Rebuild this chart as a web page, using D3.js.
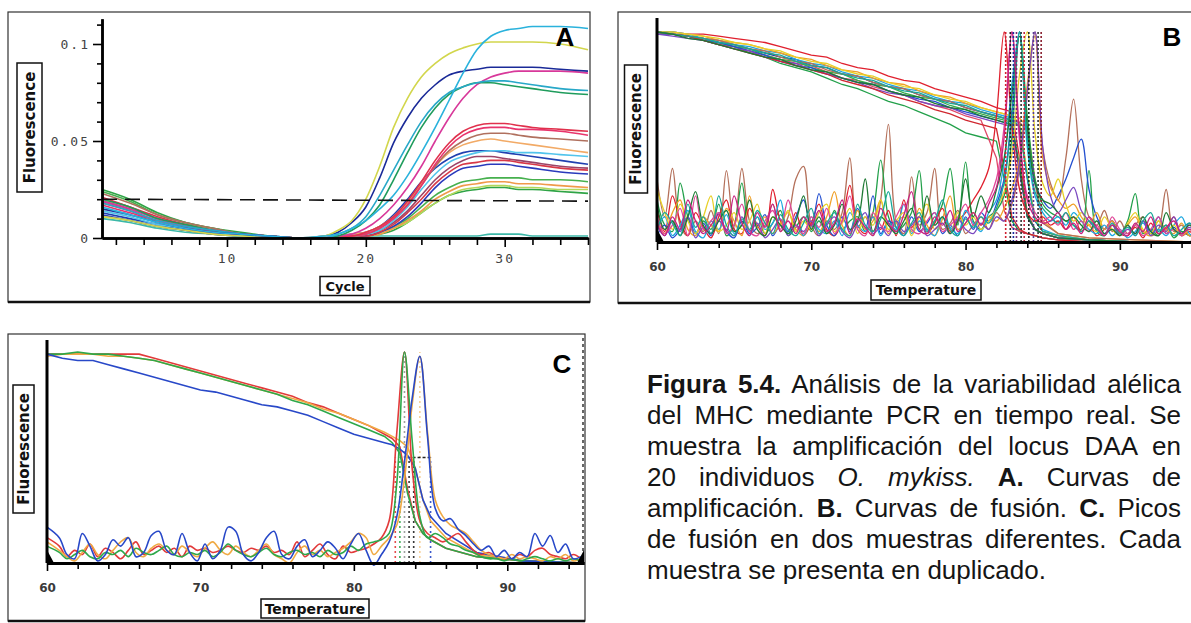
<!DOCTYPE html>
<html lang="es">
<head>
<meta charset="UTF-8">
<title>Figura 5.4 - PCR en tiempo real</title>
<script src="https://d3js.org/d3.v7.min.js"></script>
<style>
  body { margin: 0; background: #fff; }
  #fig { position: relative; width: 1191px; height: 623px; overflow: hidden; background: #fff; }
  #fig svg { position: absolute; left: 0; top: 0; }
  #caption {
    position: absolute; left: 647px; top: 369px; width: 534px;
    font-family: 'Liberation Sans', Arial, sans-serif;
    font-size: 26px; line-height: 31px; color: #151515;
  }
  #caption div { text-align: justify; text-align-last: justify; }
  #caption div.last { text-align-last: left; }
</style>
</head>
<body>
<div id="fig">
  <div id="caption">
    <div><b>Figura 5.4.</b> Análisis de la variabilidad alélica</div>
    <div>del MHC mediante PCR en tiempo real. Se</div>
    <div>muestra la amplificación del locus DAA en</div>
    <div>20 individuos <i>O. mykiss.</i> <b>A.</b> Curvas de</div>
    <div>amplificación. <b>B.</b> Curvas de fusión. <b>C.</b> Picos</div>
    <div>de fusión en dos muestras diferentes. Cada</div>
    <div class="last">muestra se presenta en duplicado.</div>
  </div>
</div>
<script>
// ---------- Panel A: amplification curves (fluorescence x 1000) ----------
const cycles = [1,3,5,7,9,11,13,15,17,18,19,20,21,22,23,24,25,26,27,28,29,30,31,32,34,36];
const ampCyanTop  = [16,12,8,5,3,2,1,0,1,2,5,9,15,22,32,44,57,71,85,97,104,107,108,109,109,108];
const ampYellow   = [11,9,6,4,2,1,0,0,1,4,9,20,37,57,72,83,90,95,98,100,101,101,101,101,100,97];
const ampDarkBlue = [15,12,8,5,3,2,1,0,1,3,8,16,31,49,62,72,79,84,86,87,88,88,88,88,87,86];
const ampTeal     = [18,14,9,6,4,2,1,0,0,2,5,11,22,35,48,60,69,75,78,80,81,81,80,79,77,76];
const ampGreen    = [20,16,10,7,4,2,1,0,0,1,4,9,17,30,44,57,67,74,78,80,80,79,78,77,75,74];
const ampMagenta  = [19,15,10,6,4,2,1,0,0,1,2,5,10,17,26,37,50,62,72,79,83,85,86,86,86,85];
const ampRed      = [21,16,11,7,4,2,1,0,0,1,1,3,6,11,19,29,40,49,55,58,59,59,58,57,56,55];
const ampPinkRed  = [17,13,9,6,3,2,1,0,0,0,1,2,5,10,17,27,38,47,53,56,57,57,56,56,55,53];
const ampBrown    = [23,18,12,8,5,2,1,0,0,1,1,2,5,10,17,27,37,45,50,53,54,54,53,52,51,50];
const ampOrange   = [20,16,10,7,4,2,1,0,0,1,2,3,6,11,18,28,37,44,48,50,51,50,49,48,46,44];
const ampLightBlue= [14,11,7,5,3,1,1,0,0,1,1,2,4,9,16,25,33,39,42,44,45,45,44,44,43,42];
const ampBlue2    = [13,10,7,4,3,1,1,0,0,1,2,3,6,12,20,29,36,41,44,45,45,44,43,42,40,38];
const ampPurple   = [19,15,10,6,4,2,1,0,0,0,1,2,4,8,14,22,30,36,40,42,42,41,40,39,37,36];
const ampRed2     = [18,14,9,6,4,2,1,0,0,0,1,1,3,7,13,20,28,34,38,39,40,40,39,38,36,35];
const ampBlue3    = [12,9,6,4,2,1,0,0,0,0,1,1,3,6,11,18,26,32,36,37,38,38,37,36,34,33];
const ampGreen2   = [24,19,12,8,5,2,1,0,0,0,1,1,3,6,10,16,22,26,29,30,31,31,31,30,30,29];
const ampOrange2  = [20,16,10,7,4,2,1,0,0,0,0,1,2,5,9,14,20,24,27,28,29,29,28,28,27,26];
const ampLightGrn = [11,9,6,4,2,1,0,0,0,0,0,1,2,5,8,13,18,22,25,26,27,27,26,26,25,25];
const ampGreen3   = [25,20,13,8,5,3,1,0,0,0,0,1,2,4,8,13,18,22,24,25,26,26,25,25,24,23];
const ampControl  = [10,8,5,3,2,1,1,0,0,0,0,1,1,1,1,1,1,1,1,1,2,2,2,1,1,1];
const thresholdCycles = [1, 36];
const thresholdValues = [20, 19];
const aYTicks = [0, 50, 100];
const aYTickLabels = ["0", "0.05", "0.1"];
const aYMinor = [10, 20, 30, 40, 60, 70, 80, 90, 110];
const aXTicks = [10, 20, 30];
const aXTickLabels = ["10", "20", "30"];
const aXMinor = [2,4,6,8,12,14,16,18,22,24,26,28,32,34,36];

// ---------- Panel B: melt curves + derivative peaks (20 individuals) ----------
const meltTemps = [60,61,62,63,64,65,66,67,68,69,70,71,72,73,74,75,76,77,78,79,80,81,82,82.5,83,83.5,84,84.5,85,86,88,91,95];
const meltB1  = [100,100,99,99,98,97,96,95,93,91,89,88,85,83,82,79,77,76,73,71,69,67,64,63,62,40,14,6,4,2,1,0,0];
const meltB2  = [100,99,98,96,94,93,90,88,85,83,81,78,75,73,70,67,65,62,59,56,52,50,48,30,10,5,4,3,2,1,1,0,0];
const meltB3  = [100,99,98,97,95,94,92,90,88,87,84,83,80,79,76,74,73,70,68,67,64,62,60,59,58,55,30,10,5,3,1,0,0];
const meltB4  = [100,100,99,97,96,94,93,91,90,87,85,84,81,79,78,75,73,72,69,67,66,63,61,60,59,56,32,11,6,3,1,0,0];
const meltB5  = [100,99,99,98,96,95,94,92,90,88,87,84,82,81,78,76,75,72,70,69,66,64,62,61,60,59,55,30,10,4,2,1,0];
const meltB6  = [99,99,98,96,94,93,91,89,87,85,84,81,78,77,74,72,70,67,65,63,60,58,40,15,7,5,4,3,2,1,0,0,0];
const meltB7  = [100,99,98,97,95,93,92,89,87,86,83,81,80,77,75,74,71,69,68,65,63,61,59,58,57,36,13,6,4,2,1,0,0];
const meltB8  = [99,99,98,96,95,93,91,89,86,84,83,80,78,76,75,72,70,68,67,64,62,60,58,57,56,34,12,6,4,2,1,0,0];
const meltB9  = [100,100,99,98,97,95,94,92,91,88,86,85,82,80,79,76,74,73,70,68,67,64,62,61,60,57,33,11,5,3,1,0,0];
const meltB10 = [100,99,98,97,96,94,92,91,88,86,85,82,80,79,76,74,73,70,68,67,64,62,60,59,58,57,53,28,9,4,2,1,0];
const meltB11 = [99,98,97,96,94,92,91,88,86,85,82,80,78,76,73,71,70,67,65,64,61,59,57,56,55,33,12,6,4,2,1,0,0];
const meltB12 = [100,99,98,96,94,92,90,88,86,84,82,80,77,75,73,70,68,66,63,61,58,56,54,35,12,6,4,3,2,1,0,0,0];
const meltB13 = [100,99,98,97,95,94,92,90,89,86,84,83,80,78,77,74,72,71,68,66,65,62,60,59,58,55,31,10,5,3,1,0,0];
const meltB14 = [100,99,97,96,94,92,90,88,87,84,82,81,78,76,75,72,70,69,66,64,63,60,58,57,56,35,12,6,4,2,1,0,0];

// derivative curves, 60 to 95 every 0.5 degrees
const derivTempsB = [60,60.5,61,61.5,62,62.5,63,63.5,64,64.5,65,65.5,66,66.5,67,67.5,68,68.5,69,69.5,70,
  70.5,71,71.5,72,72.5,73,73.5,74,74.5,75,75.5,76,76.5,77,77.5,78,78.5,79,79.5,80,
  80.5,81,81.5,82,82.5,83,83.5,84,84.5,85,85.5,86,86.5,87,87.5,88,88.5,89,89.5,90,
  90.5,91,91.5,92,92.5,93,93.5,94,94.5,95];
const derivBrown  = [30,12,35,8,3,10,5,15,4,34,6,35,10,4,8,18,5,12,30,36,8, 3,10,6,14,40,7,12,3,20,56,10,4,31,8,14,35,6,9,15,4, 8,12,6,14,10,18,35,70,100,45, 28,20,40,68,30,12,8,15,5,10, 4,8,12,3,6,25,5,8,3,6];
const derivGreen  = [20,8,5,28,12,4,10,6,18,3,8,28,5,12,4,9,15,3,7,12,5, 10,4,15,6,10,12,5,14,39,12,5,8,14,34,6,10,18,35,8,38, 10,6,12,15,22,50,100,60,30,18, 14,12,10,8,6,34,5,3,8,4, 10,23,4,6,3,8,2,5,3,4];
const derivRed    = [15,5,22,10,3,14,7,2,12,20,6,4,16,8,3,25,10,5,14,3,9, 18,6,3,10,27,8,4,12,6,15,3,20,7,12,4,9,16,5,10,14, 20,26,35,60,100,55,25,14,10,12, 8,10,6,12,5,8,3,6,10,4, 3,7,2,9,4,6,12,3,5,2];
const derivBlue   = [3,8,2,6,12,4,9,3,14,5,2,10,4,7,13,3,8,5,12,20,6, 23,8,3,12,5,16,6,22,4,10,7,3,12,5,9,14,4,8,3,12, 6,14,10,18,30,62,100,50,28,20, 16,22,30,40,49,25,12,6,10,4, 8,3,10,5,12,4,7,3,9,5];
const derivOrange = [10,4,14,20,6,3,12,8,5,16,10,3,22,7,12,4,9,14,6,3,10, 5,12,24,8,3,15,6,10,20,4,9,12,5,16,8,3,11,22,6,9, 14,8,12,10,16,25,40,75,98,40, 26,20,16,18,12,8,14,6,10,4, 8,12,5,3,10,6,4,9,3,5];
const derivCyan   = [6,12,3,8,15,5,2,10,6,13,4,8,3,12,6,9,20,4,8,3,12, 6,4,10,3,14,8,5,12,3,9,6,18,4,10,6,3,12,7,4,15, 9,5,14,20,38,75,100,45,22,14, 10,12,8,14,10,6,4,8,3,6, 2,5,9,4,6,3,8,12,4,2];
const derivYellow = [25,14,6,18,10,4,12,22,5,8,14,6,10,18,4,12,8,15,5,10,6, 14,18,5,9,16,4,12,8,20,6,10,14,3,12,18,6,9,4,14,8, 12,6,10,16,24,42,80,100,52,28, 22,30,18,10,14,8,5,12,6,3, 9,14,6,4,10,5,8,3,6,4];
const derivPurple = [8,3,10,5,12,2,7,4,10,6,3,12,5,9,2,6,11,3,8,5,10, 3,8,12,5,2,9,14,4,7,3,10,5,8,12,3,6,9,4,11,6, 4,9,6,12,10,20,38,72,100,45, 22,14,20,26,15,10,6,4,8,3, 6,4,10,3,8,5,12,4,7,3];
const derivPink   = [12,4,8,16,3,22,6,10,14,4,8,18,5,3,10,15,6,20,8,4,12, 7,16,4,10,22,6,3,14,8,5,12,18,6,4,10,14,5,8,12,18, 8,14,20,30,55,100,48,22,14,10, 12,8,14,6,10,5,8,3,12,6, 4,8,3,6,12,4,6,3,8,5];
const derivDkGreen= [18,6,10,3,12,24,8,4,10,15,5,8,20,6,3,12,8,4,10,22,6, 12,4,8,18,6,10,30,5,12,8,4,10,16,6,22,8,12,4,10,30, 12,22,14,25,40,70,98,55,28,20, 18,14,10,12,8,5,10,4,6,3, 8,4,12,5,3,14,6,4,8,3];
const derivTeal   = [5,14,9,3,18,7,12,4,22,8,3,11,6,15,9,4,13,6,3,9,16, 4,9,14,6,3,18,8,5,11,24,7,3,9,14,5,10,20,6,3,11, 7,12,9,16,28,60,100,48,24,16, 12,9,14,8,5,10,6,3,9,4, 7,3,10,14,5,8,3,6,9,3];
const derivMagenta= [9,3,12,6,20,10,4,8,13,5,22,9,3,14,7,18,5,10,4,12,8, 15,5,9,20,4,11,7,3,16,9,5,13,24,6,4,12,8,15,5,9, 14,8,18,26,50,100,52,20,12,9, 10,14,6,9,4,12,7,3,8,5, 3,9,5,12,4,7,10,4,6,3];
const bMarkTemps = [82.6, 82.9, 83.1, 83.3, 83.6, 83.8, 84.1, 84.4, 84.7, 84.9];
const bMarkTop = 100;

// ---------- Panel C: two samples in duplicate ----------
const meltCRed    = [99,99,99,99,99,99,99,97,95,93,91,89,87,85,83,81,79,76,74,71,68,65,61,59,55,35,20,14,11,7,3,1,0];
const meltCOrange = [98,99,99,99,98,98,97,96,94,92,90,88,86,84,82,80,78,76,73,71,68,65,62,60,58,55,45,30,20,12,4,1,0];
const meltCGreen  = [99,99,100,99,99,98,97,96,94,92,90,88,86,84,82,80,77,75,72,69,66,63,60,57,52,33,20,14,11,7,3,1,0];
const meltCBlue   = [99,97,96,96,94,92,90,88,86,84,82,81,79,77,75,74,72,70,67,64,61,59,57,56,54,51,45,30,22,14,5,1,0];
const derivTempsC = [60,60.8,61.3,61.8,62.3,62.8,63.3,63.8,64.3,64.8,65.3,65.8,66.3,66.8,67.3,67.8,68.3,68.8,69.3,69.8,
  70.3,70.8,71.3,71.8,72.3,72.8,73.3,73.8,74.3,74.8,75.3,75.8,76.3,76.8,77.3,77.8,78.3,78.8,79.3,79.8,
  80.3,80.8,81.3,81.8,82.3,82.8,83.3,83.8,84.3,84.8,85.3,85.8,86.3,86.8,87.3,87.8,88.3,88.8,89.3,89.8,
  90.3,90.8,91.3,91.8,92.3,92.8,93.3,93.8,94.3,94.8];
const derivCRed    = [12,8,3,6,4,9,3,7,5,2, 6,10,4,6,8,5,7,3,8,6, 7,5,6,8,6,5,7,6,8,5, 6,4,10,3,6,9,4,2,8,5, 6,7,9,12,20,62,100,45,20,14, 12,10,12,14,10,6,4,5,3,2, 2,4,3,6,7,4,3,2,4,2];
const derivCOrange = [10,6,3,1,5,9,4,2,6,10, 12,5,3,7,9,6,4,8,5,3, 7,10,6,4,8,5,3,6,9,4, 2,0,5,8,4,6,3,5,7,10, 14,12,4,8,12,18,40,75,98,62, 30,22,18,16,14,10,6,4,3,2, 4,2,3,2,1,3,2,4,1,2];
const derivCGreen  = [8,5,2,4,6,3,2,5,4,6, 3,7,5,4,6,8,4,3,5,4, 6,3,5,9,6,4,3,5,7,4, 3,5,6,4,5,3,6,4,5,8, 6,9,10,11,14,38,100,58,22,12, 14,12,9,8,6,5,3,2,2,1, 2,1,2,3,2,1,2,1,2,1];
const derivCBlue   = [17,12,4,2,14,8,1,4,11,8, 12,3,5,13,15,6,4,14,5,1, 9,2,6,17,15,4,1,5,12,15, 4,2,8,11,3,6,10,7,2,9, 14,6,-1,4,10,22,48,78,98,60, 26,20,21,16,13,9,6,8,3,6, 2,5,3,14,8,13,5,9,2,3];
const cMarkTemps = [82.7, 83.0, 83.3, 83.6, 83.9, 84.3, 85.0];
const cMarkTops  = [50, 50, 100, 50, 50, 100, 50];
const cHalfLevel = 50, cHalfFrom = 83.5, cHalfTo = 85.1;

const tempTicks = [60, 70, 80, 90];
const tempTickLabels = ["60", "70", "80", "90"];
const tempMinor = [62,64,66,68,72,74,76,78,82,84,86,88,92,94];

// ---------- colours ----------
const ampSeries = [ampControl, ampGreen3, ampLightGrn, ampOrange2, ampGreen2, ampBlue3, ampRed2, ampPurple,
  ampBlue2, ampLightBlue, ampOrange, ampBrown, ampPinkRed, ampRed, ampMagenta, ampGreen, ampTeal, ampDarkBlue, ampYellow, ampCyanTop];
const ampColors = ["#3cb8a8", "#2fa446", "#b2d85c", "#f09a4a", "#46b04e", "#2a3abc", "#d83848", "#9c4468",
  "#2040b0", "#52c4ec", "#f2aa66", "#b0705e", "#e8346c", "#e0304c", "#d8389a", "#1f9c5c", "#28a8c8", "#1a2a98", "#d2d64c", "#2ab2dc"];
const meltBSeries = [meltB1, meltB2, meltB3, meltB4, meltB5, meltB6, meltB7, meltB8, meltB9, meltB10, meltB11, meltB12, meltB13, meltB14];
const meltBColors = ["#e0202e", "#22a04a", "#1a2c9c", "#1ea8e0", "#f0a028", "#e04868", "#38b048", "#2450d0",
  "#e8d028", "#b4705a", "#7a48c0", "#d02830", "#18a898", "#1e7a34"];
const derivBSeries = [derivBrown, derivGreen, derivRed, derivBlue, derivOrange, derivCyan, derivYellow, derivPurple,
  derivPink, derivDkGreen, derivTeal, derivMagenta];
const derivBColors = ["#b4705a", "#22a04a", "#e0202e", "#2450d0", "#f0a028", "#1ea8e0", "#e8d028", "#7a48c0",
  "#e04898", "#1e7a34", "#18a898", "#c82080"];
const bMarkColors = ["#d02030", "#222", "#1a2c9c", "#7a2a70", "#333", "#c02840", "#222", "#5a3a90", "#333", "#8a2030"];
const meltCSeries = [meltCRed, meltCOrange, meltCGreen, meltCBlue];
const derivCSeries = [derivCRed, derivCOrange, derivCGreen, derivCBlue];
const cColors = ["#e23a3a", "#f0aa44", "#2ea84a", "#2848c8"];
const cMarkColors = ["#e23a3a", "#2ea84a", "#555", "#222", "#222", "#f0aa44", "#2848c8"];

// ---------- drawing ----------
const svg = d3.select("#fig").append("svg").attr("width", 1191).attr("height", 623);
const defs = svg.append("defs");

function frame(x, y, w, h) {
  svg.append("rect").attr("x", x).attr("y", y).attr("width", w).attr("height", h)
    .attr("fill", "none").attr("stroke", "#333").attr("stroke-width", 1.2);
  svg.append("line").attr("x1", x).attr("x2", x + w).attr("y1", y + h).attr("y2", y + h)
    .attr("stroke", "#111").attr("stroke-width", 2.5);
}

function boxLabel(text, cx, cy, w, h, vertical, size) {
  const g = svg.append("g").attr("transform", `translate(${cx},${cy})` + (vertical ? " rotate(-90)" : ""));
  const bw = vertical ? h : w, bh = vertical ? w : h;
  g.append("rect").attr("x", -bw / 2).attr("y", -bh / 2).attr("width", bw).attr("height", bh)
    .attr("fill", "#fff").attr("stroke", "#111").attr("stroke-width", 1.5);
  g.append("text").attr("text-anchor", "middle").attr("dy", "0.36em")
    .style("font-family", "'DejaVu Sans', Verdana, sans-serif").style("font-weight", "bold")
    .style("font-size", size + "px").attr("fill", "#111").text(text);
}

function panelLetter(t, x, y) {
  svg.append("text").attr("x", x).attr("y", y).attr("text-anchor", "middle")
    .style("font-family", "'Liberation Sans', Arial, sans-serif").style("font-weight", "bold")
    .style("font-size", "26px").attr("fill", "#000").text(t);
}

function styleAxis(g, domainW) {
  g.select(".domain").attr("stroke", "#000").attr("stroke-width", domainW);
  g.selectAll(".tick line").attr("stroke", "#000").attr("stroke-width", 1.6);
}

// ----- Panel A -----
frame(8, 12, 582, 290);
const xA = d3.scaleLinear().domain([1, 36]).range([102, 588]);
const yA = d3.scaleLinear().domain([0, 113]).range([238, 238 - 113 * 1.94]);
const gA = svg.append("g");

const lineA = d3.line().x(d => xA(d[0])).y(d => yA(d[1])).curve(d3.curveMonotoneX);
gA.selectAll("path.amp").data(ampSeries).join("path").attr("class", "amp")
  .attr("d", s => lineA(cycles.map((c, i) => [c, s[i]])))
  .attr("fill", "none").attr("stroke", (s, i) => ampColors[i]).attr("stroke-width", 1.6);

gA.append("path")
  .attr("d", d3.line().x(d => xA(d[0])).y(d => yA(d[1]))(thresholdCycles.map((c, i) => [c, thresholdValues[i]])))
  .attr("fill", "none").attr("stroke", "#111").attr("stroke-width", 1.6).attr("stroke-dasharray", "15,8");

const aMonoFont = g => g.selectAll("text").style("font-family", "'DejaVu Sans Mono', monospace")
  .style("font-size", "13px").style("letter-spacing", "2px").attr("fill", "#444");

const yAxMinor = gA.append("g").attr("transform", "translate(102,0)")
  .call(d3.axisLeft(yA).tickValues(aYMinor).tickSize(5).tickSizeOuter(0).tickFormat(""));
styleAxis(yAxMinor, 2.5);
const yAxMajor = gA.append("g").attr("transform", "translate(102,0)")
  .call(d3.axisLeft(yA).tickValues(aYTicks).tickSize(9).tickSizeOuter(0).tickFormat((d, i) => aYTickLabels[i]));
styleAxis(yAxMajor, 2.5);
yAxMajor.call(aMonoFont);
yAxMajor.selectAll("text").attr("x", -12);

const xAxMinor = gA.append("g").attr("transform", "translate(0,238)")
  .call(d3.axisBottom(xA).tickValues(aXMinor).tickSize(7).tickSizeOuter(0).tickFormat(""));
styleAxis(xAxMinor, 2.5);
const xAxMajor = gA.append("g").attr("transform", "translate(0,238)")
  .call(d3.axisBottom(xA).tickValues(aXTicks).tickSize(9).tickSizeOuter(0).tickFormat((d, i) => aXTickLabels[i]));
styleAxis(xAxMajor, 2.5);
xAxMajor.call(aMonoFont);
xAxMajor.selectAll("text").attr("y", 16);

boxLabel("Fluorescence", 29.5, 127.5, 25, 129, true, 15);
boxLabel("Cycle", 345, 286, 50, 19, false, 13);
panelLetter("A", 565, 46);

// ----- Panel B -----
frame(618, 12, 620, 291);
const xB = d3.scaleLinear().domain([60, 95]).range([657, 1197]);
const yB = d3.scaleLinear().domain([0, 100]).range([242, 32]);
defs.append("clipPath").attr("id", "clipB").append("rect")
  .attr("x", 657).attr("y", 14).attr("width", 540).attr("height", 230);
const gB = svg.append("g").attr("clip-path", "url(#clipB)");
const lineB = d3.line().x(d => xB(d[0])).y(d => yB(d[1]));
const peakLineB = d3.line().x(d => xB(d[0])).y(d => yB(d[1])).curve(d3.curveCatmullRom.alpha(0.5));

gB.selectAll("path.melt").data(meltBSeries).join("path").attr("class", "melt")
  .attr("d", s => lineB(meltTemps.map((t, i) => [t, s[i]])))
  .attr("fill", "none").attr("stroke", (s, i) => meltBColors[i]).attr("stroke-width", 1.3);
gB.selectAll("path.deriv").data(derivBSeries).join("path").attr("class", "deriv")
  .attr("d", s => peakLineB(derivTempsB.map((t, i) => [t, s[i]])))
  .attr("fill", "none").attr("stroke", (s, i) => derivBColors[i]).attr("stroke-width", 1.3);
gB.selectAll("line.mark").data(bMarkTemps).join("line").attr("class", "mark")
  .attr("x1", t => xB(t)).attr("x2", t => xB(t)).attr("y1", yB(0)).attr("y2", yB(bMarkTop))
  .attr("stroke", (t, i) => bMarkColors[i]).attr("stroke-width", 1.6).attr("stroke-dasharray", "2,2");

const tempFont = g => g.selectAll("text").style("font-family", "'DejaVu Sans', Verdana, sans-serif")
  .style("font-weight", "bold").style("font-size", "12px").attr("fill", "#3a3a3a");

function tempAxes(xS, yS, y0, yTop) {
  const gm = svg.append("g").attr("transform", `translate(0,${y0})`)
    .call(d3.axisBottom(xS).tickValues(tempMinor).tickSize(6).tickSizeOuter(0).tickFormat(""));
  styleAxis(gm, 3);
  const gM = svg.append("g").attr("transform", `translate(0,${y0})`)
    .call(d3.axisBottom(xS).tickValues(tempTicks).tickSize(8).tickSizeOuter(0).tickFormat((d, i) => tempTickLabels[i]));
  styleAxis(gM, 3);
  gM.call(tempFont);
  gM.selectAll("text").attr("y", 20);
  svg.append("line").attr("x1", xS(60)).attr("x2", xS(60)).attr("y1", y0).attr("y2", yTop)
    .attr("stroke", "#000").attr("stroke-width", 3);
  // dark wedges at the baseline corners
  const x0 = xS(60), x1 = xS(95);
  svg.append("path").attr("d", `M${x0},${y0}L${x0},${y0 - 13}L${x0 + 7},${y0}Z`).attr("fill", "#000");
  svg.append("path").attr("d", `M${x1},${y0}L${x1},${y0 - 13}L${x1 - 7},${y0}Z`).attr("fill", "#000");
}
tempAxes(xB, yB, 242, 18);
boxLabel("Fluorescence", 636, 129, 23, 128, true, 15);
boxLabel("Temperature", 926, 290, 110, 20, false, 14);
panelLetter("B", 1172, 46);

// ----- Panel C -----
frame(8, 334, 577, 287);
const xC = d3.scaleLinear().domain([60, 95]).range([47, 584]);
const yC = d3.scaleLinear().domain([0, 100]).range([563, 352]);
const gC = svg.append("g");
const lineC = d3.line().x(d => xC(d[0])).y(d => yC(d[1]));
const peakLineC = d3.line().x(d => xC(d[0])).y(d => yC(d[1])).curve(d3.curveCatmullRom.alpha(0.5));

gC.append("line").attr("x1", xC(95) - 1).attr("x2", xC(95) - 1).attr("y1", 338).attr("y2", yC(0))
  .attr("stroke", "#666").attr("stroke-width", 2).attr("stroke-dasharray", "3,3");
gC.selectAll("line.mark").data(cMarkTemps).join("line").attr("class", "mark")
  .attr("x1", t => xC(t)).attr("x2", t => xC(t)).attr("y1", yC(0)).attr("y2", (t, i) => yC(cMarkTops[i]))
  .attr("stroke", (t, i) => cMarkColors[i]).attr("stroke-width", 1.6).attr("stroke-dasharray", "2,3")
  .attr("opacity", (t, i) => cMarkTops[i] === 100 ? 0.55 : 0.9);
gC.append("line").attr("x1", xC(cHalfFrom)).attr("x2", xC(cHalfTo)).attr("y1", yC(cHalfLevel)).attr("y2", yC(cHalfLevel))
  .attr("stroke", "#222").attr("stroke-width", 1.4).attr("stroke-dasharray", "3,2");

gC.selectAll("path.melt").data(meltCSeries).join("path").attr("class", "melt")
  .attr("d", s => lineC(meltTemps.map((t, i) => [t, s[i]])))
  .attr("fill", "none").attr("stroke", (s, i) => cColors[i]).attr("stroke-width", 1.6);
gC.selectAll("path.deriv").data(derivCSeries).join("path").attr("class", "deriv")
  .attr("d", s => peakLineC(derivTempsC.map((t, i) => [t, s[i]])))
  .attr("fill", "none").attr("stroke", (s, i) => cColors[i]).attr("stroke-width", 1.6);

tempAxes(xC, yC, 563, 340);
boxLabel("Fluorescence", 23.5, 449, 21, 128, true, 15);
boxLabel("Temperature", 315, 608.5, 108, 19, false, 14);
panelLetter("C", 562, 373);
</script>
</body>
</html>
